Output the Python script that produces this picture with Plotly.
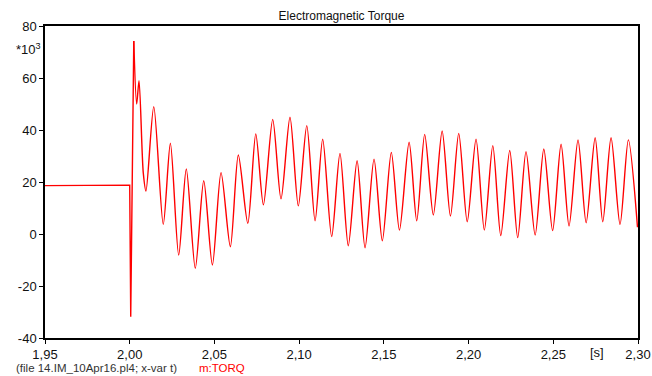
import plotly.graph_objects as go

# pre-fault steady state and fault step (s, value *1e3)
t_pre = [1.95, 2.0000, 2.0006, 2.0024]
v_pre = [18.6, 18.8, -31.8, 74.2]

# post-fault oscillation extrema (s, value *1e3)
t_post = [2.0024, 2.0041, 2.0055, 2.0080, 2.0096, 2.0142, 2.0198, 2.0240, 2.0289,
          2.0334, 2.0387, 2.0437, 2.0488, 2.0539, 2.0594, 2.0641, 2.0697, 2.0744,
          2.0789, 2.0844, 2.0893, 2.0946, 2.0995, 2.1045, 2.1094, 2.1139, 2.1192,
          2.1241, 2.1290, 2.1342, 2.1389, 2.1442, 2.1491, 2.1544, 2.1592, 2.1649,
          2.1694, 2.1741, 2.1792, 2.1844, 2.1893, 2.1942, 2.1992, 2.2044, 2.2093,
          2.2143, 2.2190, 2.2243, 2.2290, 2.2339, 2.2393, 2.2444, 2.2496, 2.2546,
          2.2593, 2.2646, 2.2694, 2.2747, 2.2792, 2.2841, 2.2894, 2.2943, 2.2997]
v_post = [74.2, 50.0, 59.0, 23.5, 16.5, 49.0, 3.7, 34.9, -8.1,
          25.0, -13.2, 20.5, -11.9, 23.6, -4.9, 30.4, 4.1, 38.5,
          11.2, 44.1, 13.5, 44.9, 10.8, 41.7, 5.1, 36.5, -1.0,
          31.0, -4.5, 28.2, -5.3, 28.8, -2.6, 31.4, 1.5, 35.3,
          5.1, 38.3, 7.3, 39.6, 6.9, 38.7, 4.7, 36.5, 1.5,
          34.0, -0.6, 32.1, -1.4, 31.7, -0.4, 32.7, 1.3, 34.5,
          3.1, 36.2, 4.3, 37.0, 4.7, 37.0, 3.7, 36.2, 2.6]

x_ticks = [1.95, 2.00, 2.05, 2.10, 2.15, 2.20, 2.25, 2.30]
x_labels = ["1,95", "2,00", "2,05", "2,10", "2,15", "2,20", "2,25", "2,30"]
y_ticks = [-40, -20, 0, 20, 40, 60, 80]
y_labels = ["-40", "-20", "0", "20", "40", "60", "80"]

FONT = "Liberation Sans, Arial, sans-serif"
RED = "#ff0000"

fig = go.Figure()
fig.add_trace(go.Scatter(x=t_pre, y=v_pre, mode="lines",
                         line=dict(color=RED, width=1.4, shape="linear"),
                         showlegend=False, hoverinfo="skip"))
fig.add_trace(go.Scatter(x=t_post, y=v_post, mode="lines",
                         line=dict(color=RED, width=1.4, shape="spline", smoothing=0.8),
                         showlegend=False, hoverinfo="skip"))

axis_common = dict(showgrid=False, zeroline=False, showline=True, linecolor="black",
                   linewidth=1.5, mirror=True, ticks="outside", ticklen=4,
                   tickcolor="black", tickwidth=1, automargin=False,
                   tickfont=dict(family=FONT, size=13, color="#111"))

fig.update_xaxes(range=[1.95, 2.30], tickvals=x_ticks, ticktext=x_labels, **axis_common)
fig.update_yaxes(range=[-40, 80], tickvals=y_ticks, ticktext=y_labels, **axis_common)

fig.update_layout(
    width=652, height=376,
    margin=dict(l=45, r=14, t=26, b=38),
    paper_bgcolor="white", plot_bgcolor="white",
    font=dict(family=FONT, color="#111"),
    title=dict(text="Electromagnetic Torque", x=(45 + 638) / 2 / 652, xanchor="center",
               y=1 - 16 / 376, yanchor="middle", font=dict(family=FONT, size=12, color="#111")),
    showlegend=False,
)

fig.add_annotation(text="*10<sup>3</sup>", xref="paper", yref="paper",
                   x=-0.004, y=(338 - 49) / 312, xanchor="right", yanchor="middle",
                   showarrow=False, font=dict(family=FONT, size=13, color="#111"))
fig.add_annotation(text="[s]", xref="x", yref="paper",
                   x=2.2759, y=-(352 - 338) / 312, xanchor="center", yanchor="middle",
                   showarrow=False, font=dict(family=FONT, size=13, color="#111"))
fig.add_annotation(text="(file 14.IM_10Apr16.pl4; x-var t)",
                   xref="paper", yref="paper",
                   x=(14 - 45) / 593, y=-(368 - 338) / 312, xanchor="left", yanchor="middle",
                   showarrow=False, font=dict(family=FONT, size=11.5, color="#333"))
fig.add_annotation(text="m:TORQ",
                   xref="paper", yref="paper",
                   x=(197 - 45) / 593, y=-(368 - 338) / 312, xanchor="left", yanchor="middle",
                   showarrow=False, font=dict(family=FONT, size=11.5, color=RED))

fig.write_html("out.html")
